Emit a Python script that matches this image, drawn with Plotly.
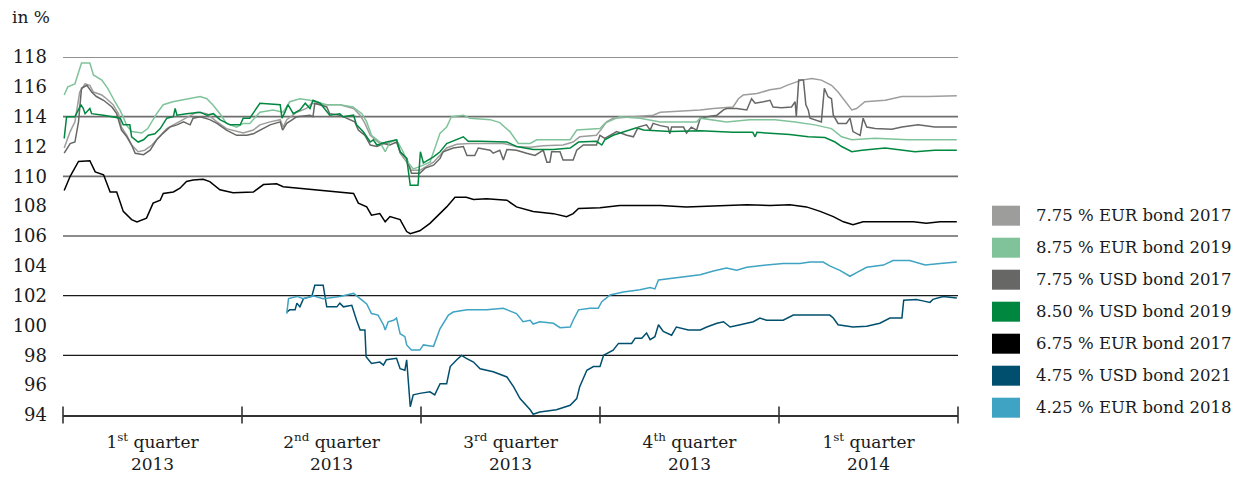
import plotly.graph_objects as go

# ---------------- data (x = months since 1 Jan 2013, y = price in %) ----------------
eur17_x = [0.02,0.12,0.20,0.28,0.37,0.45,0.51,0.65,0.73,0.84,0.93,0.98,1.07,1.15,1.26,1.37,1.49,1.63,1.74,1.85,2.07,2.24,2.41,2.58,2.74,2.91,3.02,3.19,3.30,3.47,3.64,3.69,3.75,3.92,4.08,4.17,4.36,4.64,4.87,4.98,5.06,5.15,5.28,5.42,5.59,5.65,5.76,5.84,5.98,6.21,6.32,6.43,6.60,6.82,7.38,7.60,7.83,8.05,8.38,8.55,8.66,8.94,9.03,9.11,9.22,9.56,9.89,10.01,10.34,10.68,10.90,11.23,11.32,11.40,11.63,11.85,12.02,12.13,12.38,12.55,12.71,12.88,12.99,13.11,13.22,13.30,13.44,13.78,14.06,14.50,14.98]
eur17_y = [111.9,113.0,113.65,115.65,116.2,116.1,115.65,115.45,115.2,114.8,114.2,113.3,112.75,112.1,111.65,111.75,112.1,112.75,113.2,113.45,113.9,114.3,114.2,113.65,113.2,113.0,112.9,113.1,113.45,113.65,113.8,113.3,113.8,114.3,114.55,114.9,114.8,114.8,114.55,114.1,113.55,112.75,112.3,112.2,112.45,111.55,110.95,110.4,110.4,110.95,111.4,111.9,112.15,112.2,112.2,112.0,111.95,112.05,112.1,112.3,112.65,112.75,113.2,113.65,113.9,114.0,114.1,114.3,114.35,114.45,114.55,114.65,115.2,115.45,115.55,115.8,115.9,116.1,116.45,116.55,116.45,116.1,115.65,115.0,114.45,114.55,115.0,115.1,115.35,115.35,115.4]

eur19_x = [0.02,0.08,0.20,0.31,0.45,0.51,0.65,0.75,0.87,0.96,1.07,1.15,1.32,1.42,1.57,1.68,1.84,2.07,2.30,2.41,2.51,2.63,2.74,2.91,3.02,3.13,3.30,3.52,3.69,3.80,3.97,4.14,4.25,4.42,4.64,4.86,5.01,5.09,5.17,5.31,5.40,5.48,5.59,5.70,5.78,5.87,5.98,6.15,6.32,6.43,6.51,6.71,6.82,7.16,7.32,7.49,7.63,7.83,7.94,8.50,8.61,9.00,9.08,9.17,9.33,9.67,10.01,10.62,10.68,11.12,11.51,11.93,12.27,12.60,12.88,13.05,13.22,13.61,14.16,14.98]
eur19_y = [115.45,116.0,116.2,117.6,117.6,116.8,116.45,115.9,115.0,114.4,113.4,113.0,112.9,113.2,114.2,114.8,115.0,115.2,115.35,115.2,114.8,114.2,113.55,113.3,113.55,113.55,114.3,114.45,114.3,115.0,115.2,115.1,115.0,114.8,114.8,114.65,114.2,113.65,112.75,112.3,111.65,112.3,112.45,111.65,110.95,110.5,110.65,110.95,112.9,113.3,114.0,114.1,113.9,113.8,113.6,113.0,112.2,112.2,112.45,112.45,113.1,113.2,113.55,113.7,114.0,113.9,113.65,113.65,113.9,113.65,113.8,113.8,113.65,113.45,113.2,112.65,112.45,112.55,112.45,112.45]

usd17_x = [0.02,0.12,0.20,0.26,0.31,0.40,0.48,0.56,0.68,0.82,0.90,0.98,1.07,1.15,1.21,1.35,1.46,1.57,1.68,1.79,1.91,2.02,2.13,2.18,2.30,2.46,2.58,2.74,2.91,3.08,3.19,3.30,3.47,3.64,3.68,3.75,3.92,4.14,4.19,4.22,4.42,4.47,4.64,4.75,4.89,4.95,5.06,5.15,5.26,5.37,5.48,5.59,5.65,5.76,5.84,5.98,6.07,6.21,6.32,6.37,6.54,6.71,6.77,6.90,6.96,7.16,7.21,7.32,7.38,7.44,7.60,7.77,7.91,8.05,8.11,8.16,8.19,8.33,8.38,8.55,8.61,8.72,8.94,9.00,9.08,9.28,9.45,9.56,9.64,9.78,9.84,9.89,10.01,10.14,10.17,10.20,10.40,10.45,10.53,10.62,10.68,10.79,10.96,11.07,11.12,11.29,11.46,11.54,11.60,11.74,11.85,11.90,12.04,12.21,12.27,12.29,12.33,12.41,12.45,12.49,12.52,12.71,12.76,12.82,12.88,12.91,12.99,13.13,13.19,13.24,13.36,13.41,13.47,13.61,13.89,14.06,14.33,14.61,14.98]
usd17_y = [111.55,112.2,112.3,113.65,115.9,116.1,115.65,115.35,115.1,114.65,114.2,113.1,112.65,112.1,111.55,111.45,111.75,112.45,112.9,113.3,113.45,113.65,113.45,113.9,114.0,113.8,113.55,113.1,112.75,112.75,112.85,113.1,113.45,113.65,113.1,113.55,114.0,114.1,114.0,114.9,114.65,114.2,114.1,113.9,113.65,113.1,112.75,112.1,112.0,112.2,112.1,112.3,111.65,111.2,110.2,110.2,110.55,110.75,111.2,111.65,111.9,112.0,111.4,111.4,111.9,111.75,111.55,111.75,111.1,111.8,111.75,111.55,111.4,111.75,110.95,110.95,111.65,111.65,111.1,111.1,111.75,112.1,112.1,112.75,112.55,113.0,112.75,112.65,113.3,113.45,113.1,113.55,113.4,113.3,112.85,113.3,113.3,112.9,113.3,113.1,113.9,114.0,114.1,114.45,114.55,114.55,114.45,115.2,114.9,115.0,115.1,114.65,114.6,114.65,115.0,114.0,116.45,116.45,114.8,114.45,113.9,113.65,115.9,115.35,115.2,114.1,113.55,113.55,113.9,113.0,112.75,113.9,113.3,113.2,113.15,113.3,113.45,113.3,113.3]

usd19_x = [0.02,0.06,0.20,0.30,0.34,0.37,0.45,0.48,0.68,0.84,0.96,1.01,1.12,1.15,1.26,1.35,1.43,1.54,1.63,1.74,1.85,1.88,1.91,2.07,2.30,2.41,2.52,2.63,2.80,2.97,3.02,3.13,3.30,3.64,3.67,3.72,3.77,3.86,3.97,4.06,4.14,4.19,4.31,4.47,4.64,4.69,4.87,4.92,5.03,5.15,5.20,5.26,5.34,5.42,5.59,5.65,5.76,5.82,5.95,5.99,6.04,6.21,6.32,6.43,6.71,6.79,6.99,7.44,7.60,7.88,8.22,8.50,8.64,8.94,9.03,9.08,9.22,9.39,9.50,9.61,9.73,10.17,10.68,11.23,11.56,11.60,11.63,12.18,12.49,12.77,12.94,13.05,13.22,13.39,13.78,14.28,14.61,14.98]
usd19_y = [112.55,114.0,114.0,114.8,114.55,114.2,114.55,114.2,114.1,114.0,113.9,113.45,113.45,112.65,112.3,112.45,112.75,112.85,113.2,113.9,114.0,114.55,114.1,114.2,114.3,114.1,114.2,113.8,113.45,113.45,113.9,113.9,114.9,114.8,113.9,114.3,114.8,114.2,114.45,114.9,114.55,115.1,114.9,114.1,114.2,114.0,114.1,113.45,113.0,112.3,112.45,112.1,112.2,112.3,112.45,111.65,111.2,109.4,109.4,111.65,110.9,111.3,111.65,112.2,112.65,112.35,112.35,112.3,112.0,111.8,111.8,111.9,112.3,112.35,112.1,112.45,112.75,112.95,113.1,113.25,113.1,113.0,113.05,112.95,112.95,112.65,112.95,112.8,112.65,112.6,112.3,112.0,111.65,111.75,111.9,111.65,111.75,111.75]

eur17b_x = [0.02,0.12,0.26,0.45,0.54,0.68,0.79,0.90,1.01,1.15,1.24,1.40,1.51,1.63,1.68,1.85,1.96,2.07,2.18,2.35,2.46,2.63,2.85,3.19,3.36,3.58,3.69,3.97,4.31,4.64,4.87,4.95,5.09,5.17,5.31,5.40,5.48,5.65,5.76,5.82,5.98,6.15,6.32,6.43,6.57,6.76,6.88,7.10,7.44,7.60,7.88,8.22,8.44,8.55,8.64,9.00,9.33,10.01,10.45,11.01,11.46,11.85,12.18,12.46,12.69,12.91,13.08,13.24,13.41,14.25,14.47,14.70,14.98]
eur17b_y = [109.05,110.0,111.0,111.05,110.3,110.1,108.95,108.95,107.65,107.1,106.95,107.2,108.2,108.4,108.85,108.95,109.2,109.65,109.75,109.8,109.65,109.1,108.9,108.95,109.45,109.5,109.3,109.2,109.1,108.95,108.85,108.2,107.95,107.4,107.5,106.95,107.3,107.1,106.3,106.15,106.35,106.85,107.5,107.95,108.6,108.6,108.45,108.5,108.4,107.95,107.65,107.5,107.3,107.5,107.85,107.9,108.05,108.05,107.95,108.05,108.1,108.05,108.1,107.95,107.65,107.3,106.95,106.75,106.95,106.95,106.85,106.95,106.95]

usd21_x = [3.75,3.80,3.89,3.92,3.97,4.03,4.17,4.22,4.36,4.42,4.59,4.64,4.70,4.84,4.92,4.98,5.06,5.08,5.17,5.31,5.37,5.42,5.59,5.65,5.73,5.76,5.82,5.87,5.98,6.15,6.23,6.32,6.43,6.49,6.60,6.68,6.76,6.88,6.99,7.21,7.44,7.55,7.66,7.83,7.88,7.99,8.27,8.50,8.61,8.66,8.78,8.89,9.00,9.06,9.22,9.31,9.53,9.59,9.70,9.78,9.84,9.92,9.98,10.06,10.20,10.28,10.48,10.68,10.79,10.96,11.07,11.18,11.35,11.57,11.68,11.79,12.07,12.24,12.85,12.91,12.99,13.24,13.47,13.69,13.86,14.06,14.09,14.30,14.41,14.53,14.58,14.75,14.98]
usd21_y = [100.9,101.05,101.05,101.5,101.25,101.8,101.95,102.7,102.7,101.25,101.25,101.5,101.25,101.35,100.35,99.7,99.7,97.9,97.45,97.55,97.35,97.7,97.8,97.1,97.0,97.7,94.55,95.35,95.45,95.55,95.35,96.1,96.1,97.25,97.7,98.0,97.8,97.55,97.1,96.9,96.55,95.9,95.1,94.35,94.05,94.2,94.35,94.65,95.1,95.9,97.0,97.25,97.25,98.0,98.35,98.8,98.8,99.15,99.15,99.5,99.05,99.25,100.05,99.6,99.35,99.9,99.7,99.7,99.9,100.15,100.25,99.9,100.05,100.25,100.5,100.35,100.35,100.7,100.7,100.5,100.05,99.9,99.95,100.15,100.5,100.5,101.7,101.75,101.65,101.55,101.75,101.95,101.85]

eur18_x = [3.75,3.78,3.92,4.03,4.19,4.36,4.64,4.87,4.98,5.09,5.17,5.28,5.37,5.40,5.45,5.54,5.59,5.65,5.73,5.76,5.84,5.98,6.04,6.21,6.32,6.46,6.54,6.77,7.10,7.38,7.60,7.71,7.83,7.88,7.99,8.22,8.33,8.50,8.55,8.64,8.83,8.97,9.03,9.17,9.39,9.67,9.84,9.92,9.98,10.17,10.45,10.68,10.90,11.12,11.29,11.46,11.79,12.07,12.35,12.52,12.74,12.85,13.02,13.19,13.30,13.47,13.75,13.91,14.19,14.36,14.45,14.70,14.98]
eur18_y = [100.8,101.8,101.95,101.8,102.0,101.8,101.95,102.15,101.8,101.45,100.8,100.7,100.05,99.7,100.25,100.35,100.5,99.45,99.25,98.7,98.35,98.35,98.7,98.6,99.8,100.7,100.9,101.05,101.05,101.15,100.8,100.25,100.35,100.1,100.25,100.15,99.85,99.9,100.35,101.05,101.15,101.15,101.6,102.05,102.25,102.4,102.55,102.45,103.05,103.15,103.25,103.4,103.65,103.85,103.7,103.9,104.05,104.15,104.15,104.25,104.25,104.0,103.7,103.3,103.55,103.9,104.05,104.35,104.35,104.15,104.05,104.15,104.25]

series = [
    ("7.75 % EUR bond 2017", eur17_x, eur17_y, "#9d9d9c"),
    ("8.75 % EUR bond 2019", eur19_x, eur19_y, "#80c39b"),
    ("7.75 % USD bond 2017", usd17_x, usd17_y, "#676766"),
    ("8.50 % USD bond 2019", usd19_x, usd19_y, "#00873f"),
    ("6.75 % EUR bond 2017", eur17b_x, eur17b_y, "#000000"),
    ("4.75 % USD bond 2021", usd21_x, usd21_y, "#004f6e"),
    ("4.25 % EUR bond 2018", eur18_x, eur18_y, "#3fa3c3"),
]
draw_order = [4, 5, 6, 0, 2, 1, 3]

quarter_bounds = [0, 3, 6, 9, 12, 15]
quarter_mids = [1.5, 4.5, 7.5, 10.5, 13.5]
quarter_labels = ["1<sup>st</sup> quarter<br>2013", "2<sup>nd</sup> quarter<br>2013",
                  "3<sup>rd</sup> quarter<br>2013", "4<sup>th</sup> quarter<br>2013",
                  "1<sup>st</sup> quarter<br>2014"]
y_ticks = list(range(94, 119, 2))
grid_vals = [118, 114, 110, 106, 102, 98]

FONT = "DejaVu Serif"
OFF = 8  # default page body margin of the html output
W, H = 1251 - OFF, 477 - OFF
ML, MR, MT, MB = 63 - OFF, 293, 57 - OFF, 62
PW, PH = W - ML - MR, H - MT - MB


def px_x(p):  # page pixel -> paper x
    return (p - OFF - ML) / PW


def px_y(p):  # page pixel -> paper y
    return (MT + PH - (p - OFF)) / PH


fig = go.Figure()
for i in draw_order:
    name, xs, ys, col = series[i]
    fig.add_trace(go.Scatter(x=xs, y=ys, mode="lines", name=name,
                             line=dict(color=col, width=1.5), showlegend=False))

shapes = []
for g in grid_vals:
    col = "#6e6e6e" if g >= 110 else "#1a1a1a"
    w = 1.6 if g >= 110 else 1.2
    shapes.append(dict(type="line", xref="paper", yref="y", x0=0, x1=1, y0=g, y1=g,
                       line=dict(color=col, width=w), layer="below"))
for b in quarter_bounds:
    px = b / 15
    shapes.append(dict(type="line", xref="paper", yref="paper", x0=px, x1=px,
                       y0=-8.5 / PH, y1=8.5 / PH, line=dict(color="#333333", width=1.6)))

annotations = [dict(text="in %", x=px_x(10), y=px_y(17), xref="paper", yref="paper",
                    xanchor="left", yanchor="middle", showarrow=False,
                    font=dict(family=FONT, size=17, color="#1a1a1a"))]

# manual legend
for k, (name, _, _, col) in enumerate(series):
    cy = 215.7 + k * 32
    shapes.append(dict(type="rect", xref="paper", yref="paper",
                       x0=px_x(992), x1=px_x(1020), y0=px_y(cy + 10), y1=px_y(cy - 10),
                       fillcolor=col, line=dict(width=0)))
    annotations.append(dict(text=name, x=px_x(1034), y=px_y(cy),
                            xref="paper", yref="paper", xanchor="left", yanchor="middle",
                            showarrow=False, font=dict(family=FONT, size=16.5, color="#1a1a1a")))

fig.update_layout(
    width=W, height=H, margin=dict(l=ML, r=MR, t=MT, b=MB, autoexpand=False),
    paper_bgcolor="white", plot_bgcolor="white",
    font=dict(family=FONT, size=17, color="#1a1a1a"),
    shapes=shapes, annotations=annotations,
    xaxis=dict(range=[0, 15], tickvals=quarter_mids, ticktext=quarter_labels, ticks="",
               showgrid=False, zeroline=False, showline=True, linecolor="#333333", linewidth=1.6,
               ticklabelstandoff=11, automargin=False, fixedrange=True),
    yaxis=dict(range=[94, 118], tickvals=y_ticks, ticks="", showgrid=False, zeroline=False,
               showline=False, ticklabelstandoff=15, automargin=False, fixedrange=True,
               tickfont=dict(size=18)),
)
fig.write_html("out.html")
